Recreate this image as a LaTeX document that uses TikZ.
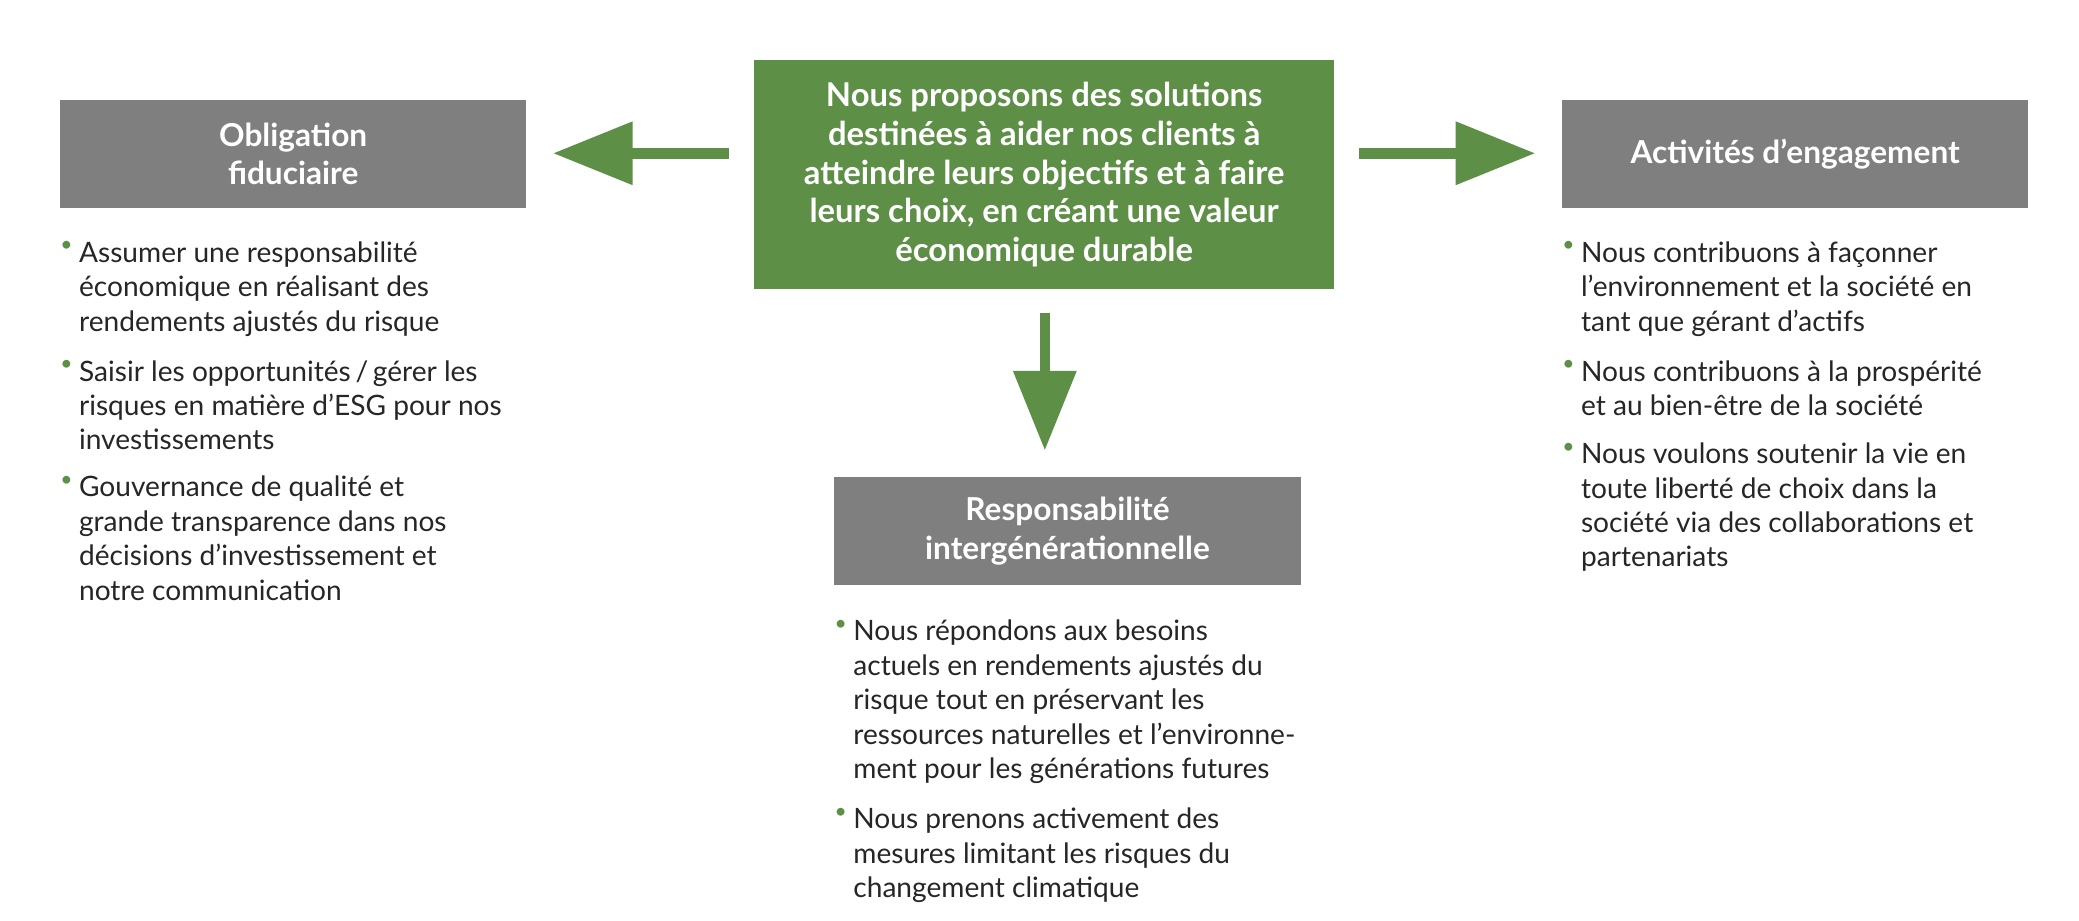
\documentclass[tikz,border=0pt]{standalone}
\usepackage{fontspec}
\setmainfont{Lato}
\usetikzlibrary{arrows.meta}
\definecolor{gr}{HTML}{5E8F47}
\definecolor{gy}{HTML}{7F7F7F}
\begin{document}
\begin{tikzpicture}[x=0.02cm,y=-0.02cm,
  hbox/.style={fill=gy,text=white,font=\bfseries\fontsize{13.5}{16.5}\selectfont,align=center,inner sep=0},
  itm/.style={anchor=north west,align=left,inner sep=0,font=\fontsize{12}{14.7}\selectfont,text=black!85},
  bul/.style={anchor=north west,inner sep=0,text=gr,font=\fontsize{9}{10}\selectfont},
  arr/.style={gr,line width=4.5pt,-{Triangle[length=34,width=26]}}]
\useasboundingbox (0,0) rectangle (1560,691);
\node[fill=gr,text=white,font=\bfseries\fontsize{14}{16.6}\selectfont,align=center,minimum width=435\pgflinewidth,inner sep=0] (c) at (783.5,131) {};
\fill[gr] (566,45) rectangle (1001,217);
\node[text=white,font=\bfseries\fontsize{14}{16.6}\selectfont,align=center,inner sep=0] (ct) at (783.5,131) {Nous proposons des solutions\\destinées à aider nos clients à\\atteindre leurs objectifs et à faire\\leurs choix, en créant une valeur\\économique durable};
\coordinate (cl) at (547,115); \coordinate (cr) at (1020,115); \coordinate (cb) at (784,235);
\node[hbox,minimum width=7cm,minimum height=1.62cm] (L) at (220,115.5) {Obligation\\fiduciaire};
\node[hbox,minimum width=7cm,minimum height=1.62cm] (R) at (1347,115.5) {Activités d’engagement};
\node[hbox,minimum width=7cm,minimum height=1.62cm] (B) at (801,398.5) {Responsabilité\\intergénérationnelle};
\coordinate (le) at (415,115); \coordinate (re) at (1152,115); \coordinate (be) at (784,338);
\draw[arr] (cl) -- (le);
\draw[arr] (cr) -- (re);
\draw[arr] (cb) -- (be);
% left
\foreach \y/\t in {181/{Assumer une responsabilité\\économique en réalisant des\\rendements ajustés du risque},
 270/{Saisir les opportunités\,/\,gérer les\\risques en matière d’ESG pour nos\\investissements},
 357/{Gouvernance de qualité et\\grande transparence dans nos\\décisions d’investissement et\\notre communication}}
 {\node[bul] at (45,\y) {\textbullet}; \node[itm] at (59,\y) {\t};}
% right
\foreach \y/\t in {181/{Nous contribuons à façonner\\l’environnement et la société en\\tant que gérant d’actifs},
 270/{Nous contribuons à la prospérité\\et au bien-être de la société},
 332/{Nous voulons soutenir la vie en\\toute liberté de choix dans la\\société via des collaborations et\\partenariats}}
 {\node[bul] at (1172,\y) {\textbullet}; \node[itm] at (1186,\y) {\t};}
% bottom
\foreach \y/\t in {465/{Nous répondons aux besoins\\actuels en rendements ajustés du\\risque tout en préservant les\\ressources naturelles et l’environne-\\ment pour les générations futures},
 606/{Nous prenons activement des\\mesures limitant les risques du\\changement climatique}}
 {\node[bul] at (626,\y) {\textbullet}; \node[itm] at (640,\y) {\t};}
\end{tikzpicture}
\end{document}
